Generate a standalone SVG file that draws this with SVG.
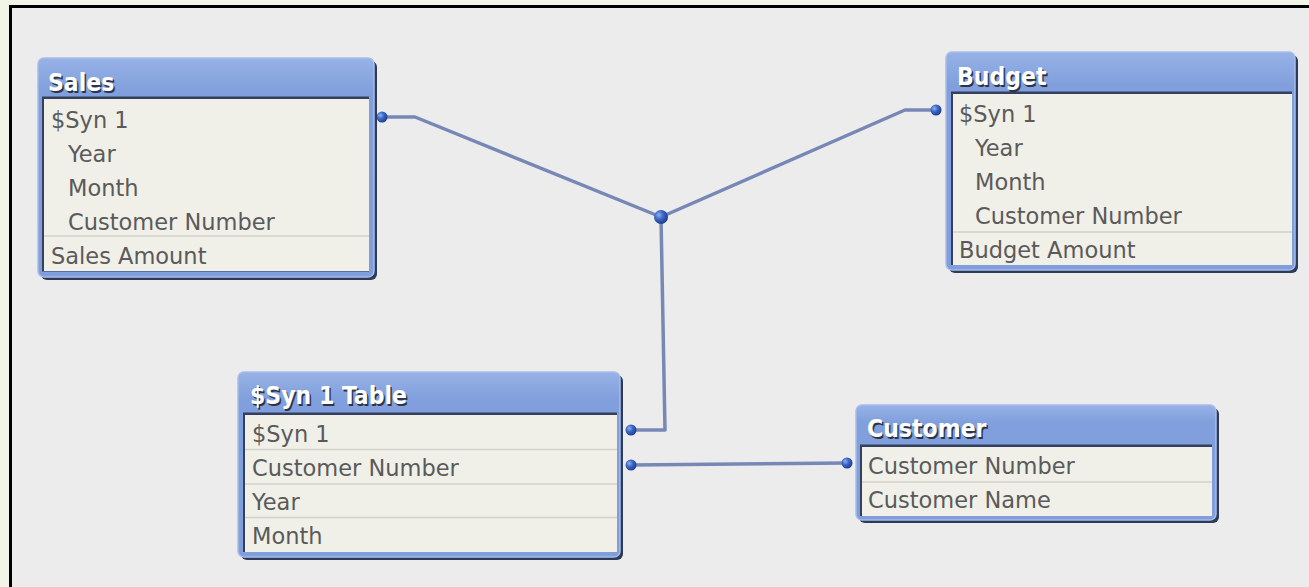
<svg xmlns="http://www.w3.org/2000/svg" width="1309" height="587" viewBox="0 0 1309 587">
<defs>
<style>
.shadow{fill:#2d3a58}
.frame{fill:url(#hdr);stroke:#a7bdea;stroke-width:1.5}
.bodyedge{fill:#34405c}
.body{fill:#f0efe8}
.sep{stroke:#d2d1ca;stroke-width:1.5}
.t{font-family:"DejaVu Sans",Verdana,sans-serif;font-size:22.5px;fill:#5a5a5a}
.h{font-family:"DejaVu Sans Condensed","DejaVu Sans",sans-serif;font-stretch:condensed;font-weight:bold;font-size:24.5px}
.hs{fill:#2c3448}
.hw{fill:#ffffff}
.link{fill:none;stroke:#7788b6;stroke-width:3.5;stroke-linejoin:round}
</style>
<linearGradient id="hdr" x1="0" y1="0" x2="0" y2="1">
<stop offset="0" stop-color="#98b2e6"/>
<stop offset="0.15" stop-color="#809fdc"/>
<stop offset="1" stop-color="#7f9edb"/>
</linearGradient>
<radialGradient id="dot" cx="0.35" cy="0.35" r="0.7">
<stop offset="0" stop-color="#8fb0f0"/>
<stop offset="0.45" stop-color="#3c66c6"/>
<stop offset="1" stop-color="#1d3a8a"/>
</radialGradient>
</defs>
<rect x="0" y="0" width="1309" height="587" fill="#f1f5e8"/>
<rect x="11" y="7" width="1298" height="580" fill="#ececec"/>
<path d="M10.5 587 V6.5 H1309" fill="none" stroke="#000" stroke-width="3"/>

<g id="connectors">
<polyline class="link" points="382,117 415,117 661,217"/>
<polyline class="link" points="936,110 905,110 661,217"/>
<polyline class="link" points="661,217 665,430 631,430"/>
<polyline class="link" points="631,465 847,463"/>
<circle cx="382" cy="117" r="5.5" fill="url(#dot)"/>
<circle cx="936" cy="110" r="5.5" fill="url(#dot)"/>
<circle cx="661" cy="217" r="7" fill="url(#dot)"/>
<circle cx="631" cy="430" r="5.5" fill="url(#dot)"/>
<circle cx="631" cy="465" r="5.5" fill="url(#dot)"/>
<circle cx="847" cy="463" r="5.5" fill="url(#dot)"/>
</g>

<g id="sales">
<rect class="shadow" x="41" y="61" width="336" height="219" rx="6"/>
<rect class="frame" x="38" y="58" width="336" height="219" rx="6"/>
<rect class="bodyedge" x="42" y="96.5" width="327" height="175"/>
<rect class="body" x="44" y="99" width="325" height="172"/>
<line class="sep" x1="44" y1="236" x2="369" y2="236"/>
<text class="h hs" x="49.5" y="92.5">Sales</text>
<text class="h hw" x="48" y="91">Sales</text>
<text class="t" x="51" y="128">$Syn 1</text>
<text class="t" x="68" y="162">Year</text>
<text class="t" x="68" y="196">Month</text>
<text class="t" x="68" y="230">Customer Number</text>
<text class="t" x="51" y="264">Sales Amount</text>
</g>

<g id="budget">
<rect class="shadow" x="949" y="55" width="349" height="218" rx="6"/>
<rect class="frame" x="946" y="52" width="349" height="218" rx="6"/>
<rect class="bodyedge" x="951" y="91.5" width="341" height="173.5"/>
<rect class="body" x="953" y="94" width="339" height="171"/>
<line class="sep" x1="953" y1="232" x2="1292" y2="232"/>
<text class="h hs" x="958.5" y="86.5">Budget</text>
<text class="h hw" x="957" y="85">Budget</text>
<text class="t" x="959" y="122">$Syn 1</text>
<text class="t" x="975" y="156">Year</text>
<text class="t" x="975" y="190">Month</text>
<text class="t" x="975" y="224">Customer Number</text>
<text class="t" x="959" y="258">Budget Amount</text>
</g>

<g id="syn1table">
<rect class="shadow" x="241" y="375" width="382" height="185" rx="6"/>
<rect class="frame" x="238" y="372" width="382" height="185" rx="6"/>
<rect class="bodyedge" x="243" y="412.5" width="374" height="139.5"/>
<rect class="body" x="245" y="415" width="372" height="137"/>
<line class="sep" x1="245" y1="449.5" x2="617" y2="449.5"/>
<line class="sep" x1="245" y1="484" x2="617" y2="484"/>
<line class="sep" x1="245" y1="517.5" x2="617" y2="517.5"/>
<text class="h hs" x="251.5" y="405.5">$Syn 1 Table</text>
<text class="h hw" x="250" y="404">$Syn 1 Table</text>
<text class="t" x="252" y="442">$Syn 1</text>
<text class="t" x="252" y="476">Customer Number</text>
<text class="t" x="252" y="510">Year</text>
<text class="t" x="252" y="544">Month</text>
</g>

<g id="customer">
<rect class="shadow" x="859" y="408" width="360" height="115" rx="6"/>
<rect class="frame" x="856" y="405" width="360" height="115" rx="6"/>
<rect class="bodyedge" x="860" y="444.5" width="352" height="71.5"/>
<rect class="body" x="862" y="447" width="350" height="69"/>
<line class="sep" x1="862" y1="482" x2="1212" y2="482"/>
<text class="h hs" x="868.5" y="438.5">Customer</text>
<text class="h hw" x="867" y="437">Customer</text>
<text class="t" x="868" y="474">Customer Number</text>
<text class="t" x="868" y="508">Customer Name</text>
</g>
</svg>
